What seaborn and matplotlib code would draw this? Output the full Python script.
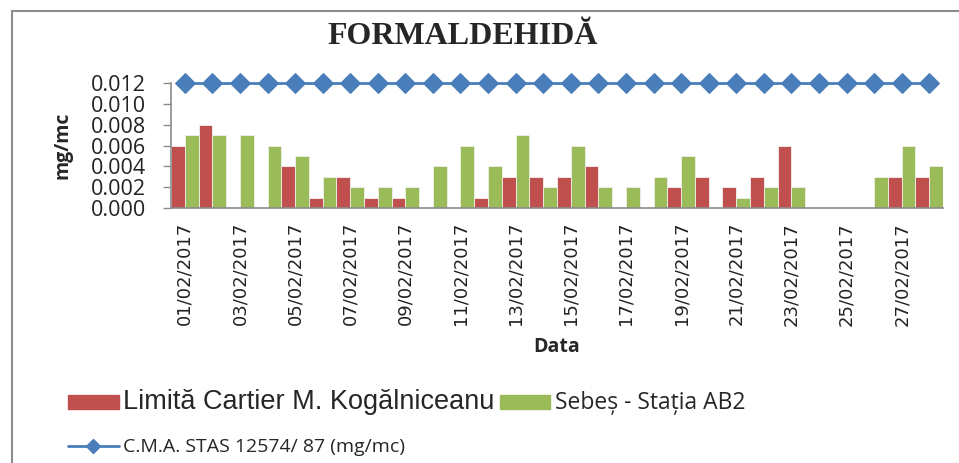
import numpy as np
import pandas as pd
import matplotlib
matplotlib.use("Agg")
import matplotlib.pyplot as plt
import seaborn as sns
from matplotlib.patches import Patch, Rectangle
from matplotlib.lines import Line2D
from matplotlib.ticker import FormatStrFormatter

sns.set_theme(style="white")
plt.rcParams["font.family"] = ["Open Sans", "DejaVu Sans"]

nan = np.nan

# zilele lunii februarie 2017
zile = ["01/02/2017", "02/02/2017", "03/02/2017", "04/02/2017", "05/02/2017",
        "06/02/2017", "07/02/2017", "08/02/2017", "09/02/2017", "10/02/2017",
        "11/02/2017", "12/02/2017", "13/02/2017", "14/02/2017", "15/02/2017",
        "16/02/2017", "17/02/2017", "18/02/2017", "19/02/2017", "20/02/2017",
        "21/02/2017", "22/02/2017", "23/02/2017", "24/02/2017", "25/02/2017",
        "26/02/2017", "27/02/2017", "28/02/2017"]

# concentratii (mg/mc)
kogalniceanu = [0.006, 0.008, nan, nan, 0.004, 0.001, 0.003, 0.001, 0.001, nan,
                nan, 0.001, 0.003, 0.003, 0.003, 0.004, nan, nan, 0.002, 0.003,
                0.002, 0.003, 0.006, nan, nan, nan, 0.003, 0.003]
sebes = [0.007, 0.007, 0.007, 0.006, 0.005, 0.003, 0.002, 0.002, 0.002, 0.004,
         0.006, 0.004, 0.007, 0.002, 0.006, 0.002, 0.002, 0.003, 0.005, nan,
         0.001, 0.002, 0.002, nan, nan, 0.003, 0.006, 0.004]
cma = [0.012] * 28

serii = ["Limită Cartier M. Kogălniceanu", "Sebeș - Stația AB2"]
nume_cma = "C.M.A. STAS 12574/ 87 (mg/mc)"

ROSU = "#C0504D"
VERDE = "#9BBB59"
ALBASTRU = "#4A7EBB"
GRI = "#8C8C8C"

df = pd.DataFrame({
    "Data": zile * 2,
    "serie": [serii[0]] * len(zile) + [serii[1]] * len(zile),
    "valoare": kogalniceanu + sebes,
})

fig = plt.figure(figsize=(9.59, 4.63), dpi=100)
ax = fig.add_axes([171 / 959, 1 - 208 / 463, (943 - 171) / 959, (208 - 83) / 463])

sns.barplot(data=df, x="Data", y="valoare", hue="serie", order=zile,
            hue_order=serii, palette=[ROSU, VERDE], saturation=1, width=1.0,
            errorbar=None, linewidth=0.6, edgecolor="#f0f0f0", legend=False, ax=ax)

sns.lineplot(x=np.arange(len(zile)), y=cma, color=ALBASTRU, linewidth=2,
             marker="D", markersize=10, markeredgecolor=ALBASTRU,
             clip_on=False, legend=False, ax=ax, zorder=5)

ax.set_xlim(-0.5, len(zile) - 0.5)
ax.set_ylim(0, 0.012)
ax.set_yticks(np.arange(0, 0.0121, 0.002))
ax.yaxis.set_major_formatter(FormatStrFormatter("%.3f"))
ax.set_xticks(range(0, len(zile), 2))
ax.set_xticklabels(zile[::2], rotation=90,
                   family=["Liberation Sans Narrow", "DejaVu Sans"], fontsize=13,
                   color="#222222")
ax.tick_params(axis="x", length=0, pad=10)
ax.tick_params(axis="y", length=6, width=1, color=GRI, direction="out",
               pad=12, labelsize=15.5, labelcolor="#222222", left=True)

for s in ["top", "right"]:
    ax.spines[s].set_visible(False)
for s in ["left", "bottom"]:
    ax.spines[s].set_color(GRI)
    ax.spines[s].set_linewidth(1.2)

ax.set_ylabel("mg/mc", fontsize=14, fontweight="bold", labelpad=13)
ax.set_xlabel("Data", fontsize=14, fontweight="bold", labelpad=8)

fig.text(463 / 959, 1 - 36 / 463, "FORMALDEHIDĂ", ha="center", va="center",
         family="Liberation Serif", fontweight="bold", fontsize=23)

handles = [Patch(color=ROSU),
           Line2D([0], [0], color=ALBASTRU, linewidth=2, marker="D",
                  markersize=7),
           Patch(color=VERDE)]
labels = [serii[0], nume_cma, serii[1]]
leg = fig.legend(handles, labels, ncol=2, loc="upper left",
                 bbox_to_anchor=(68 / 959, 1 - 389 / 463), frameon=False,
                 fontsize=14, handlelength=2.6, handletextpad=0.25,
                 columnspacing=0.25, labelspacing=1.2, borderpad=0,
                 borderaxespad=0)
txt = leg.get_texts()
txt[0].set_family(["Liberation Sans", "DejaVu Sans"])
txt[0].set_fontsize(19.5)
txt[2].set_fontsize(16.5)

# chenarul graficului
fig.patches.append(Rectangle((12 / 959, -0.2), 1.2, 1.2 - 11 / 463,
                             transform=fig.transFigure, fill=False,
                             edgecolor=GRI, linewidth=1.5))

fig.savefig("out.png", dpi=100)
